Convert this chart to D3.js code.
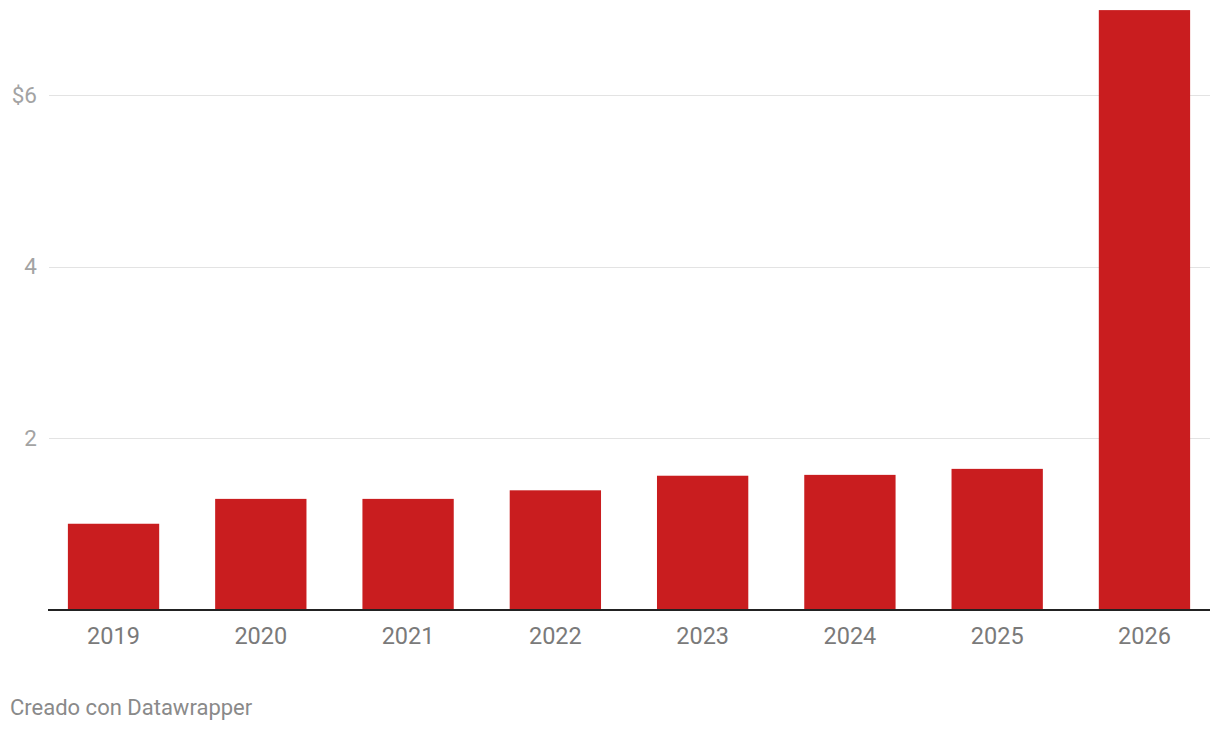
<!DOCTYPE html>
<html>
<head>
<meta charset="utf-8">
<script src="https://cdn.jsdelivr.net/npm/d3@7"></script>
<style>
  html, body { margin: 0; padding: 0; background: #fff; }
  svg { display: block; font-family: Roboto, sans-serif; }
</style>
</head>
<body>
<svg id="chart" width="1220" height="732"></svg>
<script>
const categories = ["2019", "2020", "2021", "2022", "2023", "2024", "2025", "2026"];
const values = [1.0, 1.29, 1.29, 1.39, 1.56, 1.57, 1.64, 6.99];
const yTicks = [2, 4, 6];
const yTickLabels = ["2", "4", "$6"];
const footer = "Creado con Datawrapper";

(function () {
const svg = d3.select("#chart");
const mLeft = 48, mRight = 1210, mBottom = 609.5;

const x = d3.scaleBand().domain(categories).range([mLeft, mRight])
  .paddingInner(0.38).paddingOuter(0.135);
const y = d3.scaleLinear().domain([0, 7]).range([mBottom, mBottom - 7 * 85.75]);

// gridlines
svg.append("g").selectAll("line").data(yTicks).join("line")
  .attr("x1", mLeft + 1).attr("x2", mRight)
  .attr("y1", d => Math.round(y(d)) + 0.5).attr("y2", d => Math.round(y(d)) + 0.5)
  .attr("stroke", "#e3e3e3").attr("stroke-width", 1);

// y labels
svg.append("g").selectAll("text").data(yTicks).join("text")
  .attr("x", 37).attr("y", d => y(d))
  .attr("dy", "0.35em")
  .attr("text-anchor", "end")
  .attr("fill", "#a3a3a3")
  .attr("font-size", 22.5)
  .text((d, i) => yTickLabels[i]);

// bars
svg.append("g").selectAll("rect").data(values).join("rect")
  .attr("x", (d, i) => x(categories[i]))
  .attr("width", x.bandwidth())
  .attr("y", d => y(d))
  .attr("height", d => mBottom - y(d))
  .attr("fill", "#c91d1f");

// baseline
svg.append("line")
  .attr("x1", mLeft).attr("x2", mRight)
  .attr("y1", 610).attr("y2", 610)
  .attr("stroke", "#222").attr("stroke-width", 2);

// x labels
const xAxis = d3.axisBottom(x).tickSize(0).tickPadding(0);
const gx = svg.append("g").attr("transform", `translate(0,${mBottom})`).call(xAxis);
gx.select(".domain").remove();
gx.selectAll("text")
  .attr("y", 34)
  .attr("dy", 0)
  .attr("fill", "#7a7a7a")
  .attr("font-size", 23.5)
  .attr("font-family", "Roboto, sans-serif");

// footer
svg.append("text")
  .attr("x", 10).attr("y", 715)
  .attr("fill", "#8a8a8a")
  .attr("font-size", 22)
  .text(footer);
})();
</script>
</body>
</html>
